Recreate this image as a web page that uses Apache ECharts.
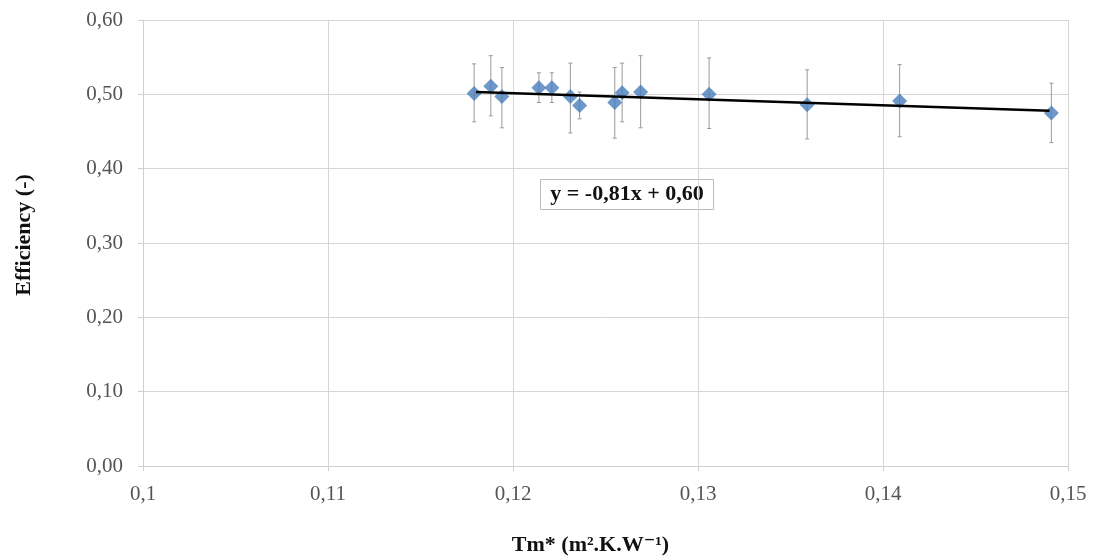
<!DOCTYPE html>
<html><head><meta charset="utf-8">
<script src="https://cdn.jsdelivr.net/npm/echarts@6/dist/echarts.min.js"></script>
<style>html,body{margin:0;padding:0;background:#fff}#c{width:1096px;height:556px}</style>
</head><body><div id="c"></div>
<script>
const tm = [0.1179,0.1188,0.1194,0.1214,0.1221,0.1231,0.1236,0.1255,0.1259,0.1269,0.1306,0.1359,0.1409,0.1491];
const eff = [0.501,0.511,0.497,0.509,0.509,0.497,0.485,0.489,0.502,0.503,0.500,0.486,0.491,0.475];
const errLow = [0.463,0.471,0.455,0.489,0.489,0.448,0.467,0.441,0.463,0.455,0.454,0.440,0.443,0.435];
const errHigh = [0.541,0.552,0.536,0.529,0.529,0.542,0.503,0.536,0.542,0.552,0.549,0.533,0.540,0.515];
const trendX = [0.118, 0.149];
const trendY = [0.503, 0.478];
const xTicks = ['0,1','0,11','0,12','0,13','0,14','0,15'];
const equation = 'y = -0,81x + 0,60';

const serif = '"Liberation Serif", "DejaVu Serif", serif';
const chart = echarts.init(document.getElementById('c'));
chart.setOption({
  animation: false,
  grid: {left: 143, right: 28, top: 20, bottom: 90, containLabel: false, outerBoundsMode: 'none'},
  xAxis: {
    type: 'value', min: 0.1, max: 0.15, interval: 0.01,
    name: 'Tm* (m².K.W⁻¹)', nameLocation: 'middle', nameGap: 68,
    nameTextStyle: {fontFamily: serif, fontWeight: 'bold', fontSize: 22, color: '#111', padding: [0, 30, 0, 0]},
    axisLine: {show: true, lineStyle: {color: '#cfcfcf'}},
    axisTick: {show: true, length: 5, lineStyle: {color: '#cfcfcf'}},
    axisLabel: {fontFamily: serif, fontSize: 21, color: '#555', margin: 18,
      formatter: v => xTicks[Math.round((v - 0.1) / 0.01)]},
    splitLine: {show: true, lineStyle: {color: '#d6d6d6'}}
  },
  yAxis: {
    type: 'value', min: 0, max: 0.6, interval: 0.1,
    name: 'Efficiency (-)', nameLocation: 'middle', nameGap: 108,
    nameTextStyle: {fontFamily: serif, fontWeight: 'bold', fontSize: 22, color: '#111', padding: [0, 0, 0, 16]},
    axisLine: {show: true, lineStyle: {color: '#cfcfcf'}},
    axisTick: {show: true, length: 5, lineStyle: {color: '#cfcfcf'}},
    axisLabel: {fontFamily: serif, fontSize: 21, color: '#555', margin: 20,
      formatter: v => v.toFixed(2).replace('.', ',')},
    splitLine: {show: true, lineStyle: {color: '#d6d6d6'}}
  },
  series: [
    {
      type: 'custom',
      data: tm.map((x, i) => [x, errLow[i], errHigh[i]]),
      renderItem: (params, api) => {
        const lo = api.coord([api.value(0), api.value(1)]);
        const hi = api.coord([api.value(0), api.value(2)]);
        const s = {stroke: '#9a9a9a', lineWidth: 1};
        return {type: 'group', children: [
          {type: 'line', shape: {x1: lo[0], y1: lo[1], x2: hi[0], y2: hi[1]}, style: s},
          {type: 'line', shape: {x1: lo[0]-2, y1: lo[1], x2: lo[0]+2, y2: lo[1]}, style: s},
          {type: 'line', shape: {x1: hi[0]-2, y1: hi[1], x2: hi[0]+2, y2: hi[1]}, style: s}
        ]};
      },
      z: 1
    },
    {
      type: 'scatter', symbol: 'diamond', symbolSize: 15,
      itemStyle: {color: '#4a7ebb'},
      data: tm.map((x, i) => [x, eff[i]]), z: 2
    },
    {
      type: 'line', symbol: 'none', lineStyle: {color: '#000', width: 2.5},
      data: trendX.map((x, i) => [x, trendY[i]]), z: 3
    }
  ],
  graphic: [{
    type: 'group', left: 540, top: 179,
    children: [
      {type: 'rect', shape: {x: 0, y: 0, width: 173, height: 30}, style: {fill: '#fff', stroke: '#bbb', lineWidth: 1}},
      {type: 'text', x: 86.5, y: 15, style: {text: equation, fontFamily: serif, fontWeight: 'bold', fontSize: 22, fill: '#111', align: 'center', verticalAlign: 'middle'}}
    ]
  }]
});
</script></body></html>
